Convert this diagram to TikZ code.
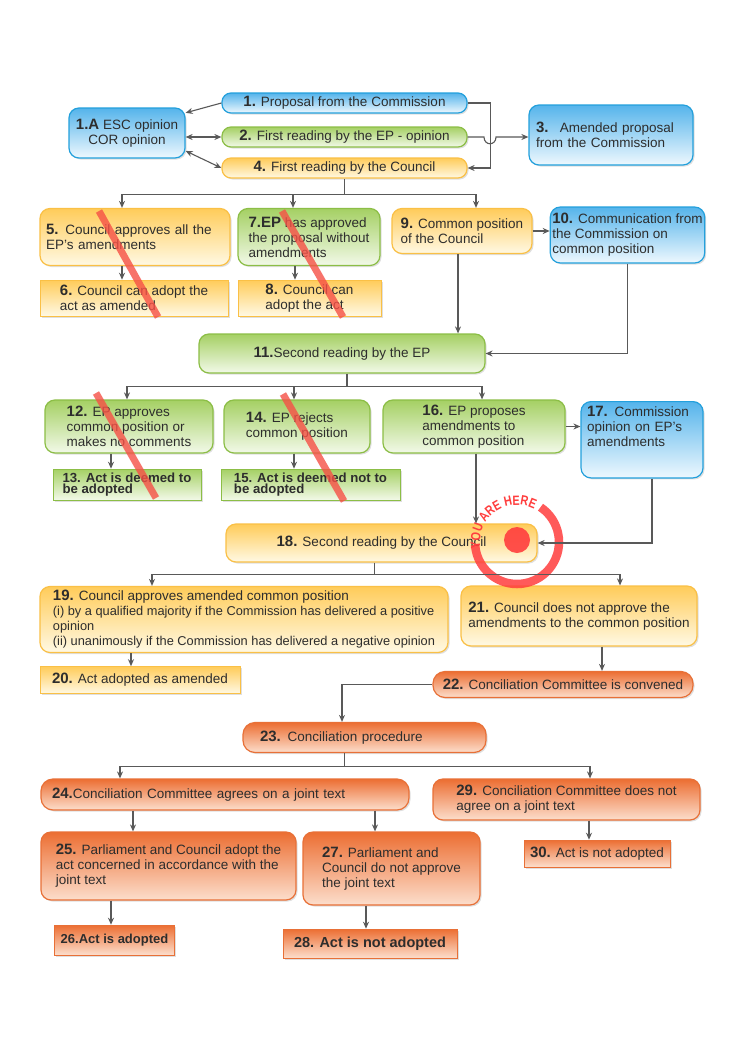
\documentclass[tikz,border=0pt]{standalone}
\usepackage{fontspec}
\setmainfont{Liberation Sans}
\newfontfamily\stampfont[FakeStretch=0.8]{Liberation Sans}
\usetikzlibrary{positioning, arrows.meta, shadows, decorations.text}

\definecolor{bluedge}{RGB}{35,160,220}
\definecolor{bluetop}{RGB}{85,180,235}
\definecolor{bluebot}{RGB}{238,248,254}
\definecolor{grnedge}{RGB}{140,190,70}
\definecolor{grntop}{RGB}{165,208,100}
\definecolor{grnbot}{RGB}{242,249,232}
\definecolor{ylwedge}{RGB}{250,192,70}
\definecolor{ylwtop}{RGB}{255,204,90}
\definecolor{ylwbot}{RGB}{255,249,228}
\definecolor{orgedge}{RGB}{232,112,55}
\definecolor{orgtop}{RGB}{236,110,50}
\definecolor{orgbot}{RGB}{252,222,204}
\definecolor{txt}{RGB}{45,45,45}
\definecolor{cross}{RGB}{246,80,70}
\definecolor{stamp}{RGB}{255,62,62}

\newcommand{\nr}[1]{{\fontsize{15}{15}\selectfont\bfseries #1}}

\begin{document}
\begin{tikzpicture}[x=1pt, y=-1pt]
\tikzstyle{box}=[draw, line width=1.2pt, rounded corners=10pt, align=left, text=txt, font=\fontsize{13.5}{15}\selectfont, inner xsep=6pt, inner ysep=3pt, drop shadow={shadow xshift=1.5pt, shadow yshift=-1.5pt, opacity=0.25}]
\tikzstyle{blu}=[box, draw=bluedge, top color=bluetop, bottom color=bluebot]
\tikzstyle{grn}=[box, draw=grnedge, top color=grntop, bottom color=grnbot]
\tikzstyle{ylw}=[box, draw=ylwedge, top color=ylwtop, bottom color=ylwbot]
\tikzstyle{org}=[box, draw=orgedge, top color=orgtop, bottom color=orgbot]
\tikzstyle{flat}=[sharp corners, line width=0.6pt]
\tikzstyle{heavy}=[font=\fontsize{13.2}{11.5}\selectfont\bfseries]
\tikzstyle{wire}=[draw=black!65, line width=1.1pt]
\tikzstyle{arr}=[wire, -{Stealth[length=7pt, width=6pt]}]
\tikzstyle{arrs}=[wire, {Stealth[length=7pt, width=6pt]}-{Stealth[length=7pt, width=6pt]}]
\tikzstyle{cut}=[draw=cross, line width=7pt, opacity=0.8]

\path[use as bounding box, fill=white] (0,0) rectangle (744,1052);

% first reading
\node[blu, align=center, rounded corners=9pt, minimum width=245pt, minimum height=20pt](n1) at (344.5,103){\nr{1.} Proposal from the Commission};
\node[blu, align=center, minimum width=116pt, minimum height=50pt](n1a) at (127,133){\nr{1.A} ESC opinion\\COR opinion};
\node[grn, align=center, rounded corners=9pt, minimum width=245pt, minimum height=20pt](n2) at (344.5,137){\nr{2.} First reading by the EP - opinion};
\node[ylw, align=center, rounded corners=9pt, minimum width=245pt, minimum height=20pt](n4) at (344.5,168){\nr{4.} First reading by the Council};
\node[blu, text width=150pt, inner xsep=7pt, minimum height=60pt](n3) at (611,135){\nr{3.}~ Amended proposal\\from the Commission};

\node[ylw, text width=178pt, minimum height=57pt](n5) at (135,237){\nr{5.} Council approves all the\\EP's amendments};
\node[ylw, flat, minimum width=188pt, minimum height=36pt](n6) at (134,298){\nr{6.} Council can adopt the\\act as amended};
\node[grn, minimum width=142pt, minimum height=57pt](n7) at (309,237){\nr{7.EP} has approved\\the proposal without\\amendments};
\node[ylw, flat, minimum width=143pt, minimum height=36pt](n8) at (309.5,298){\nr{8.} Council can\\adopt the act};
\node[ylw, minimum width=140pt, minimum height=45pt](n9) at (462,231){\nr{9.} Common position\\of the Council};
\node[blu, inner xsep=2pt, minimum width=151pt, minimum height=56pt](n10) at (627.5,235){\nr{10.} Communication from\\the Commission on\\common position};

% second reading by the EP
\node[grn, align=center, minimum width=286pt, minimum height=39pt](n11) at (342,353.5){\nr{11.}Second reading by the EP};
\node[grn, minimum width=168pt, minimum height=53pt](n12) at (129,426.5){\nr{12.} EP approves\\common position or\\makes no comments};
\node[grn, flat, heavy, minimum width=148pt, minimum height=31pt](n13) at (127,484.5){13. Act is deemed to\\be adopted};
\node[grn, minimum width=146pt, minimum height=53pt](n14) at (297,426.5){\nr{14.} EP rejects\\common position};
\node[grn, flat, heavy, minimum width=179pt, minimum height=31pt](n15) at (310.5,484.5){15. Act is deemed not to\\be adopted};
\node[grn, minimum width=182pt, minimum height=53pt](n16) at (474,426.5){\nr{16.} EP proposes\\amendments to\\common position};
\node[blu, anchor=north, text width=110pt, inner ysep=5pt, text depth=56pt](n17) at (642,401){\nr{17.} Commission\\opinion on EP's\\amendments};

% second reading by the Council
\node[ylw, align=center, minimum width=311pt, minimum height=38pt](n18) at (381.5,543){\nr{18.} Second reading by the Council};
\node[ylw, minimum width=408pt, minimum height=66pt](n19) at (244,619.5){\nr{19.} Council approves amended common position\\{\fontsize{12.8}{15}\selectfont (i) by a qualified majority if the Commission has delivered a positive}\\{\fontsize{12.8}{15}\selectfont opinion}\\{\fontsize{12.8}{15}\selectfont (ii) unanimously if the Commission has delivered a negative opinion}};
\node[ylw, flat, minimum width=200pt, minimum height=27pt](n20) at (140,680){\nr{20.} Act adopted as amended};
\node[ylw, inner xsep=5pt, minimum width=236pt, minimum height=60pt](n21) at (579,616){\nr{21.} Council does not approve the\\amendments to the common position};

% conciliation
\node[org, rounded corners=12pt, minimum width=260pt, minimum height=26pt](n22) at (563,684.5){\nr{22.} Conciliation Committee is convened};
\node[org, rounded corners=12pt, text width=209pt, inner xsep=17pt, minimum height=30pt](n23) at (364.5,737.5){\nr{23.} Conciliation procedure};
\node[org, rounded corners=12pt, text width=346pt, inner xsep=11pt, minimum height=31pt](n24) at (225,794.5){\nr{24.}Conciliation Committee agrees on a joint text};
\node[org, minimum width=267pt, minimum height=41pt](n29) at (566.5,799.5){\nr{29.} Conciliation Committee does not\\agree on a joint text};
\node[org, minimum width=255pt, minimum height=68pt](n25) at (168.5,866){\nr{25.} Parliament and Council adopt the\\act concerned in accordance with the\\joint text};
\node[org, minimum width=177pt, minimum height=73pt](n27) at (391.5,868.5){\nr{27.} Parliament and\\Council do not approve\\the joint text};
\node[org, flat, font=\fontsize{13}{15}\selectfont\bfseries, minimum width=115pt, minimum height=30pt](n26) at (114.5,940){26.Act is adopted};
\node[org, flat, font=\fontsize{14.5}{15}\selectfont\bfseries, minimum width=174pt, minimum height=29pt](n28) at (370,943.5){28. Act is not adopted};
\node[org, flat, minimum width=146pt, minimum height=27pt](n30) at (597,853.5){\nr{30.} Act is not adopted};

% struck out routes
\path[cut] (99,211) -- (158,317);
\path[cut] (282,211) -- (343,317);
\path[cut] (96,393) -- (156,498);
\path[cut] (283,394) -- (344,501);

% you are here
\begin{scope}[shift={(517,542)}]
\fill[stamp, opacity=0.9] (0,-2) circle[radius=13pt];
\draw[stamp, opacity=0.85, line width=8.5pt] (56:42pt) arc[start angle=56, end angle=-176, radius=42pt];
\path[decorate, decoration={text along path, text color=stamp, text align=center, text={|\stampfont\fontsize{13.5}{13.5}\selectfont\bfseries|YOU ARE HERE}}] (206:37pt) arc[start angle=206, end angle=46, radius=37pt];
\end{scope}

% connectors
\path[arr](n1.west) -- (n1a.19);
\path[arrs](n2.west) -- (n2.west -| n1a.east);
\path[arrs](n4.west) -- (n1a.-17);
\path[arr](n1.east) -- ++(23,0) |- (n4.east);
\path[arr](n2.east) -- (484,137) .. controls (484,146) and (496,146) .. (496,137) -- (n2.east -| n3.west);

\path[wire](n4.south) -- ++(0,16) coordinate(k4);
\path[arr](k4) -| ([xshift=-13pt]n5.north);
\path[arr](k4) -| ([xshift=-16pt]n7.north);
\path[arr](k4) -| ([xshift=14pt]n9.north);
\path[arr]([xshift=-13pt]n5.south) -- ([xshift=-13pt]n5.south |- n6.north);
\path[arr]([xshift=-14pt]n7.south) -- ([xshift=-14pt]n7.south |- n8.north);
\path[arr](n9.east) -- (n9.east -| n10.west);
\path[arr]([xshift=-4pt]n9.south) -- ([xshift=-4pt]n9.south |- n11.north);
\path[arr](n10.south) |- (n11.east);

\path[wire]([xshift=5pt]n11.south) -- ++(0,13) coordinate(k11);
\path[arr](k11) -| ([xshift=-2pt]n12.north);
\path[arr](k11) -| ([xshift=-3pt]n14.north);
\path[arr](k11) -| ([xshift=8pt]n16.north);
\path[arr]([xshift=-18pt]n12.south) -- ([xshift=-18pt]n12.south |- n13.north);
\path[arr]([xshift=-3pt]n14.south) -- ([xshift=-3pt]n14.south |- n15.north);
\path[arr](n16.east) -- (n16.east -| n17.west);
\path[arr]([xshift=2pt]n16.south) -- ([xshift=2pt]n16.south |- n18.north);
\path[arr]([xshift=10pt]n17.south) |- (n18.east);

\path[wire]([xshift=-7pt]n18.south) -- ++(0,12) coordinate(k18);
\path[arr](k18) -| ([xshift=-92pt]n19.north);
\path[arr](k18) -| ([xshift=41pt]n21.north);
\path[arr]([xshift=-113pt]n19.south) -- ([xshift=-113pt]n19.south |- n20.north);
\path[arr]([xshift=23pt]n21.south) -- ([xshift=23pt]n21.south |- n22.north);
\path[arr](n22.west) -| ([xshift=-22.5pt]n23.north);

\path[wire]([xshift=-20pt]n23.south) -- ++(0,13) coordinate(k23);
\path[arr](k23) -| ([xshift=-105pt]n24.north);
\path[arr](k23) -| ([xshift=23.5pt]n29.north);
\path[arr]([xshift=-92pt]n24.south) -- ([xshift=-92pt]n24.south |- n25.north);
\path[arr]([xshift=150pt]n24.south) -- ([xshift=150pt]n24.south |- n27.north);
\path[arr]([xshift=-57.5pt]n25.south) -- ([xshift=-57.5pt]n25.south |- n26.north);
\path[arr]([xshift=-25.5pt]n27.south) -- ([xshift=-25.5pt]n27.south |- n28.north);
\path[arr]([xshift=22.5pt]n29.south) -- ([xshift=22.5pt]n29.south |- n30.north);

\end{tikzpicture}
\end{document}
